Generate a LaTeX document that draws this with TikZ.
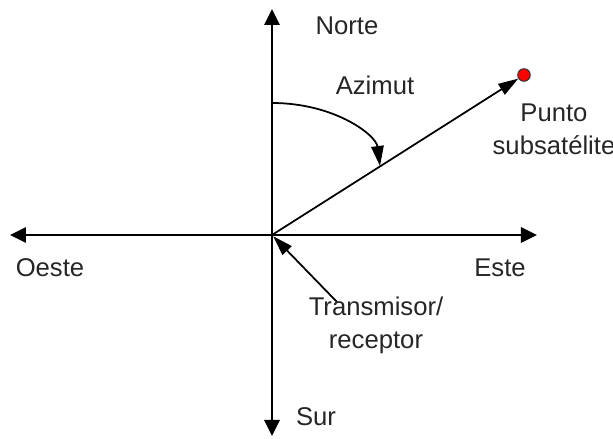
\documentclass[tikz,border=0pt]{standalone}
\usepackage{fontspec}
\setmainfont{Liberation Sans}
\usetikzlibrary{arrows.meta,positioning}
\tikzset{
  axis/.style={line width=1.7pt, -{Triangle[length=0.32cm, width=0.3cm]}},
  ray/.style={line width=1pt, -{Triangle[length=0.4cm, width=0.25cm]}},
  lbl/.style={font=\fontsize{14.6}{18.8}\selectfont, text=black!85, inner sep=0pt, align=center},
  satdot/.style={circle, draw=black!80, fill=red, line width=0.6pt, inner sep=0pt, minimum size=0.25cm},
  every picture/.style={line cap=round, line join=round}
}

\begin{document}
\begin{tikzpicture}
  \useasboundingbox (-5.44,-4.08) rectangle (6.82,4.70);
  \coordinate (o) at (0,0);
  \coordinate (n) at (0,4.52);
  \coordinate (s) at (0,-4.02);
  \coordinate (w) at (-5.24,0);
  \coordinate (e) at (5.30,0);
  \coordinate (arcstart) at (0,2.64);
  \coordinate (arcend) at (2.16,1.38);
  \coordinate (txtail) at (1.30,-1.34);
  \node[satdot] (sat) at (5.04,3.20) {};
  % axes
  \draw[axis] (o) -- (n);
  \draw[axis] (o) -- (s);
  \draw[axis] (o) -- (w);
  \draw[axis] (o) -- (e);
  % direction to the subsatellite point
  \draw[ray] (o) -- (sat);
  \draw[ray] (arcstart) .. controls (1.25,2.64) and (2.08,2.0) .. (arcend);
  \draw[ray, shorten >=1pt] (txtail) -- (o);
  % labels
  \node[lbl] (norte) at (1.50,4.18) {Norte};
  \node[lbl] (sur) at (0.88,-3.64) {Sur};
  \node[lbl] (oeste) at (-4.44,-0.66) {Oeste};
  \node[lbl] (este) at (4.56,-0.66) {Este};
  \node[lbl] (azimut) at (2.06,3.00) {Azimut};
  \node[lbl] (punto) at (5.64,2.12) {Punto\\subsatélite};
  \node[lbl] (trx) at (2.08,-1.80) {Transmisor/\\receptor};
\end{tikzpicture}
\end{document}
